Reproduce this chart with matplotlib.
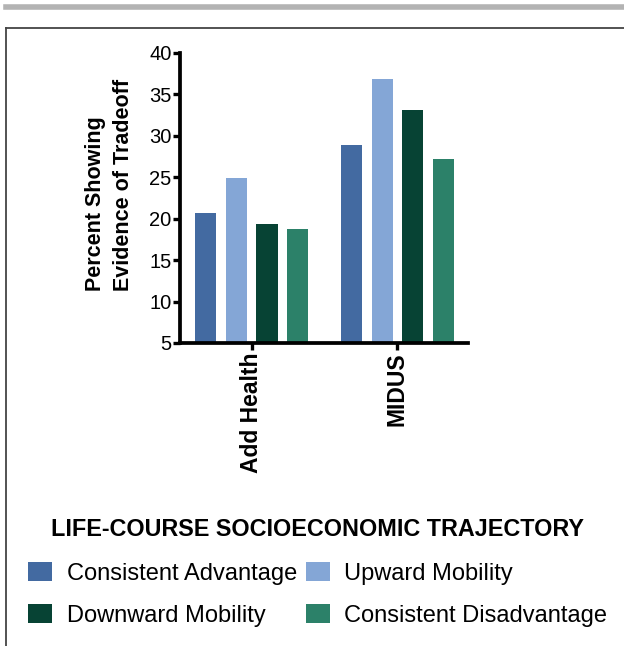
import numpy as np
import matplotlib.pyplot as plt
from matplotlib.lines import Line2D

plt.rcParams['font.family'] = ['Liberation Sans', 'DejaVu Sans']

# data
groups = ["Add Health", "MIDUS"]
series = ["Consistent Advantage", "Upward Mobility", "Downward Mobility", "Consistent Disadvantage"]
consistent_adv = [20.7, 28.9]
upward_mob = [24.9, 36.9]
downward_mob = [19.4, 33.1]
consistent_dis = [18.7, 27.2]
colors = ["#436aa1", "#84a6d6", "#074334", "#2c8169"]

values = [consistent_adv, upward_mob, downward_mob, consistent_dis]

fig = plt.figure(figsize=(6.24, 6.46), dpi=100)
ax = fig.add_axes([180 / 624, 1 - 343 / 646, 288 / 624, 290 / 646])

x = np.arange(len(groups))
offsets = [-1.5, -0.5, 0.5, 1.5]
step = 0.212
width = 0.144
bars = []
for vals, off, col, name in zip(values, offsets, colors, series):
    b = ax.bar(x + off * step, vals, width=width, color=col, label=name)
    bars.append(b)

ax.set_ylim(5, 40)
ax.set_yticks(range(5, 41, 5))
ax.set_xlim(-0.49, 1.483)
ax.set_xticks(x)
ax.set_xticklabels(groups, rotation=90, fontsize=16.5, fontweight='bold')
ax.tick_params(axis='y', labelsize=14.5, width=2.4, length=5, pad=1)
ax.tick_params(axis='x', width=2.4, length=5, pad=2)
for s in ['top', 'right']:
    ax.spines[s].set_visible(False)
for s in ['left', 'bottom']:
    ax.spines[s].set_linewidth(2.7)

ax.set_ylabel("Percent Showing\nEvidence of Tradeoff", fontsize=15.5, fontweight='bold',
              multialignment='left', linespacing=1.45)
ax.yaxis.set_label_coords(-0.158, 0.545)

# legend, row-major order like the original
order = [0, 2, 1, 3]
leg = fig.legend(handles=[bars[i] for i in order], labels=[series[i] for i in order],
                 ncol=2, loc='upper center',
                 bbox_to_anchor=(0.509, 1 - 497 / 646), frameon=False,
                 fontsize=17, handlelength=1.02, handleheight=0.85,
                 handletextpad=0.6, columnspacing=0.38, labelspacing=0.82,
                 title="LIFE-COURSE SOCIOECONOMIC TRAJECTORY",
                 title_fontproperties={'weight': 'bold', 'size': 16.8})
leg._legend_box.sep = 15

# frame lines
fig.add_artist(Line2D([6 / 624, 1], [1 - 6.5 / 646, 1 - 6.5 / 646], color="#b3b3b3", lw=4))
fig.add_artist(Line2D([6 / 624, 1], [1 - 28 / 646, 1 - 28 / 646], color="#444444", lw=1.3))
fig.add_artist(Line2D([6 / 624, 6 / 624], [0, 1 - 28 / 646], color="#444444", lw=1.3))

fig.savefig("out.png")
